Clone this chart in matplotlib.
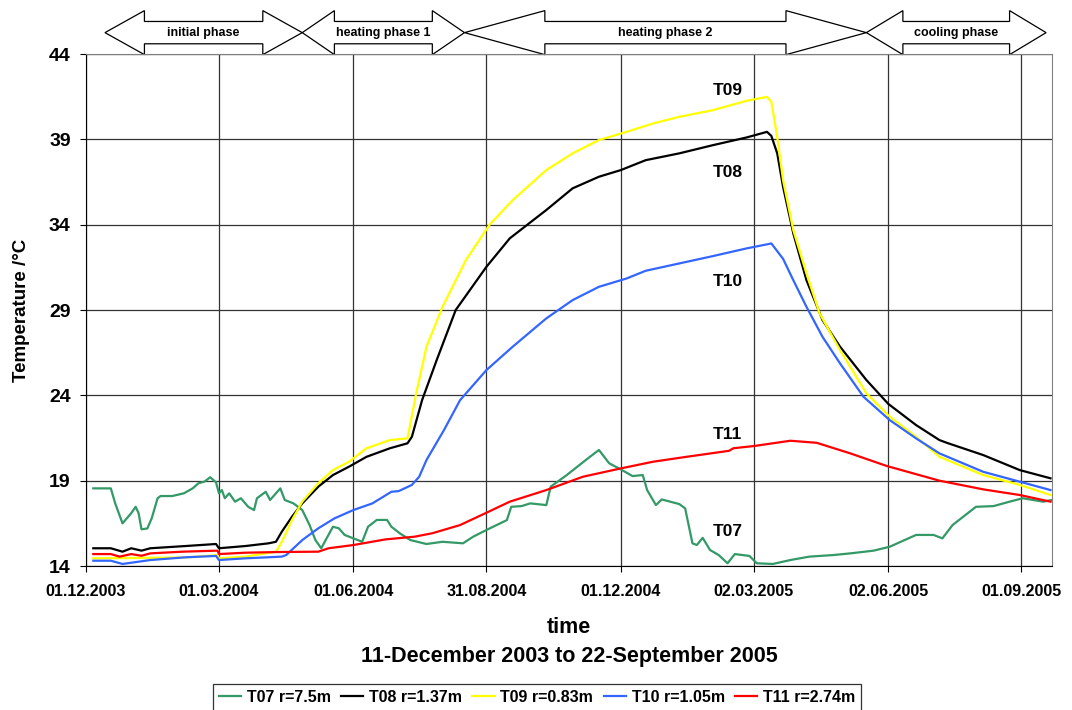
import numpy as np
import pandas as pd
import matplotlib
matplotlib.use("Agg")
import matplotlib.pyplot as plt
import matplotlib.dates as mdates
from matplotlib.patches import Polygon
from matplotlib.transforms import blended_transform_factory

plt.rcParams['font.family'] = 'Liberation Sans'
plt.rcParams['font.weight'] = 'bold'

# temperature records, 11-Dec-2003 .. 22-Sep-2005
t07_dates = ["2003-12-06", "2003-12-18", "2003-12-21", "2003-12-26", "2004-01-01", "2004-01-04",
             "2004-01-06", "2004-01-08", "2004-01-12", "2004-01-15", "2004-01-19", "2004-01-21",
             "2004-01-29", "2004-02-06", "2004-02-12", "2004-02-16", "2004-02-20", "2004-02-24",
             "2004-02-28", "2004-03-01", "2004-03-03", "2004-03-05", "2004-03-08", "2004-03-12",
             "2004-03-16", "2004-03-21", "2004-03-25", "2004-03-27", "2004-04-02", "2004-04-05",
             "2004-04-09", "2004-04-12", "2004-04-15", "2004-04-21", "2004-04-27", "2004-05-02",
             "2004-05-06", "2004-05-10", "2004-05-13", "2004-05-18", "2004-05-22", "2004-05-26",
             "2004-06-01", "2004-06-07", "2004-06-11", "2004-06-17", "2004-06-24", "2004-06-27",
             "2004-07-03", "2004-07-10", "2004-07-21", "2004-08-01", "2004-08-15", "2004-08-22",
             "2004-08-31", "2004-09-14", "2004-09-17", "2004-09-24", "2004-09-30", "2004-10-11",
             "2004-10-14", "2004-10-25", "2004-11-07", "2004-11-16", "2004-11-23", "2004-12-01",
             "2004-12-09", "2004-12-16", "2004-12-19", "2004-12-25", "2004-12-29", "2005-01-10",
             "2005-01-14", "2005-01-19", "2005-01-22", "2005-01-26", "2005-01-31", "2005-02-06",
             "2005-02-12", "2005-02-17", "2005-02-27", "2005-03-04", "2005-03-15", "2005-03-27",
             "2005-04-09", "2005-04-25", "2005-05-07", "2005-05-23", "2005-06-03", "2005-06-21",
             "2005-07-03", "2005-07-09", "2005-07-16", "2005-08-01", "2005-08-13", "2005-08-24",
             "2005-09-02", "2005-09-16", "2005-09-22"]
t07_vals = [18.55, 18.55, 17.67, 16.5, 17.1, 17.47,
            17.1, 16.15, 16.2, 16.8, 17.97, 18.1,
            18.1, 18.26, 18.55, 18.85, 18.94, 19.2,
            18.9, 18.26, 18.45, 17.97, 18.26, 17.77,
            17.97, 17.47, 17.28, 17.97, 18.35, 17.87,
            18.26, 18.55, 17.87, 17.67, 17.28, 16.4,
            15.52, 15.04, 15.52, 16.3, 16.21, 15.82,
            15.62, 15.42, 16.3, 16.7, 16.7, 16.3,
            15.9, 15.52, 15.29, 15.42, 15.33, 15.72,
            16.11, 16.69, 17.47, 17.51, 17.67, 17.57,
            18.65, 19.33, 20.21, 20.8, 20.02, 19.66,
            19.27, 19.33, 18.45, 17.57, 17.9, 17.63,
            17.38, 15.33, 15.23, 15.65, 14.94, 14.64,
            14.16, 14.7, 14.59, 14.16, 14.12, 14.35,
            14.55, 14.64, 14.74, 14.9, 15.13, 15.82,
            15.82, 15.62, 16.4, 17.47, 17.51, 17.77,
            17.97, 17.77, 17.87]

t08_dates = ["2003-12-06", "2003-12-18", "2003-12-26", "2004-01-01", "2004-01-08", "2004-01-14",
             "2004-02-07", "2004-02-28", "2004-03-01", "2004-03-19", "2004-04-04", "2004-04-09",
             "2004-04-13", "2004-04-20", "2004-04-27", "2004-05-08", "2004-05-18", "2004-05-29",
             "2004-06-10", "2004-06-26", "2004-07-08", "2004-07-11", "2004-07-18", "2004-07-28",
             "2004-08-10", "2004-08-31", "2004-09-16", "2004-10-11", "2004-10-29", "2004-11-16",
             "2004-12-01", "2004-12-18", "2005-01-10", "2005-02-02", "2005-02-25", "2005-03-11",
             "2005-03-14", "2005-03-18", "2005-03-22", "2005-03-29", "2005-04-07", "2005-04-18",
             "2005-04-30", "2005-05-18", "2005-06-02", "2005-06-21", "2005-07-07", "2005-07-12",
             "2005-08-06", "2005-08-31", "2005-09-21"]
t08_vals = [15.04, 15.04, 14.84, 15.04, 14.9, 15.04,
            15.17, 15.29, 15.04, 15.17, 15.33, 15.42,
            16.01, 16.89, 17.67, 18.65, 19.33, 19.82,
            20.4, 20.9, 21.19, 21.57, 23.72, 26.07,
            29.0, 31.53, 33.2, 34.86, 36.13, 36.81,
            37.2, 37.78, 38.18, 38.66, 39.11, 39.44,
            39.2, 38.18, 36.22, 33.49, 30.75, 28.41,
            26.85, 24.9, 23.5, 22.26, 21.38, 21.22,
            20.5, 19.62, 19.14]

t09_dates = ["2003-12-06", "2004-02-07", "2004-02-29", "2004-03-01", "2004-03-19", "2004-04-09",
             "2004-04-13", "2004-04-20", "2004-04-27", "2004-05-08", "2004-05-18", "2004-05-29",
             "2004-06-10", "2004-06-26", "2004-07-08", "2004-07-14", "2004-07-21", "2004-08-01",
             "2004-08-17", "2004-09-02", "2004-09-18", "2004-10-11", "2004-10-29", "2004-11-16",
             "2004-12-05", "2004-12-23", "2005-01-10", "2005-02-02", "2005-02-25", "2005-03-11",
             "2005-03-14", "2005-03-18", "2005-03-22", "2005-03-29", "2005-04-07", "2005-04-16",
             "2005-04-30", "2005-05-18", "2005-06-03", "2005-06-21", "2005-07-07", "2005-08-06",
             "2005-08-31", "2005-09-21"]
t09_vals = [14.45, 14.5, 14.64, 14.45, 14.55, 14.84,
            15.42, 16.7, 17.77, 18.85, 19.62, 20.11,
            20.9, 21.38, 21.48, 24.12, 26.85, 29.19,
            31.93, 33.98, 35.44, 37.2, 38.18, 38.96,
            39.44, 39.93, 40.32, 40.71, 41.26, 41.49,
            41.2, 39.15, 36.61, 33.68, 31.15, 28.8,
            26.65, 24.12, 22.75, 21.57, 20.4, 19.33,
            18.75, 18.16]

t10_dates = ["2003-12-06", "2003-12-18", "2003-12-26", "2004-01-14", "2004-02-07", "2004-02-28",
             "2004-03-01", "2004-03-19", "2004-04-13", "2004-04-16", "2004-04-27", "2004-05-08",
             "2004-05-19", "2004-06-01", "2004-06-14", "2004-06-27", "2004-07-02", "2004-07-11",
             "2004-07-16", "2004-07-21", "2004-08-02", "2004-08-13", "2004-08-31", "2004-09-18",
             "2004-10-11", "2004-10-29", "2004-11-16", "2004-12-05", "2004-12-18", "2005-01-10",
             "2005-02-02", "2005-02-25", "2005-03-14", "2005-03-22", "2005-03-29", "2005-04-07",
             "2005-04-18", "2005-04-30", "2005-05-16", "2005-06-03", "2005-06-21", "2005-07-07",
             "2005-08-06", "2005-08-31", "2005-09-21"]
t10_vals = [14.31, 14.31, 14.12, 14.35, 14.51, 14.59,
            14.35, 14.45, 14.55, 14.64, 15.52, 16.21,
            16.79, 17.28, 17.67, 18.35, 18.39, 18.75,
            19.23, 20.21, 21.97, 23.72, 25.48, 26.85,
            28.51, 29.58, 30.36, 30.85, 31.3, 31.73,
            32.16, 32.61, 32.9, 32.0, 30.75, 29.19,
            27.43, 25.87, 23.92, 22.55, 21.48, 20.6,
            19.52, 18.94, 18.45]

t11_dates = ["2003-12-06", "2003-12-18", "2003-12-24", "2004-01-01", "2004-01-08", "2004-01-14",
             "2004-02-05", "2004-02-29", "2004-03-01", "2004-03-19", "2004-04-11", "2004-05-08",
             "2004-05-15", "2004-06-01", "2004-06-23", "2004-07-13", "2004-07-25", "2004-08-13",
             "2004-08-31", "2004-09-16", "2004-10-11", "2004-11-05", "2004-12-01", "2004-12-23",
             "2005-01-15", "2005-02-13", "2005-02-16", "2005-03-02", "2005-03-27", "2005-04-14",
             "2005-05-07", "2005-06-01", "2005-07-07", "2005-08-06", "2005-08-31", "2005-09-21"]
t11_vals = [14.7, 14.7, 14.55, 14.7, 14.6, 14.74,
            14.84, 14.9, 14.7, 14.78, 14.82, 14.84,
            15.04, 15.23, 15.56, 15.72, 15.92, 16.4,
            17.12, 17.77, 18.45, 19.23, 19.72, 20.11,
            20.4, 20.75, 20.9, 21.03, 21.34, 21.22,
            20.6, 19.86, 19.0, 18.49, 18.16, 17.77]

series_names = ["T07 r=7.5m", "T08 r=1.37m", "T09 r=0.83m", "T10 r=1.05m", "T11 r=2.74m"]
series_colors = ["#339966", "#000000", "#FFFF00", "#3366FF", "#FF0000"]

# curve labels inside the plot
label_texts = ["T09", "T08", "T10", "T11", "T07"]
label_date = "2005-02-12"
label_vals = [41.89, 37.08, 30.7, 21.73, 16.05]

# experiment phases drawn as double arrows above the plot
phase_names = ["initial phase", "heating phase 1", "heating phase 2", "cooling phase"]
phase_bounds = ["2003-12-14", "2004-04-27", "2004-08-16", "2005-05-18", "2005-09-18"]
phase_heads = [27, 22, 55, 25]  # arrow head length in days

tick_dates = ["2003-12-01", "2004-03-01", "2004-06-01", "2004-08-31",
              "2004-12-01", "2005-03-02", "2005-06-02", "2005-09-01"]

fig = plt.figure(figsize=(10.72, 7.10), dpi=100)
ax = fig.add_axes([0.0802, 0.2028, 0.9011, 0.7211])

all_series = [(t07_dates, t07_vals), (t08_dates, t08_vals), (t09_dates, t09_vals),
              (t10_dates, t10_vals), (t11_dates, t11_vals)]
for (d, v), name, col in zip(all_series, series_names, series_colors):
    ax.plot(pd.to_datetime(d), v, color=col, lw=1.6, label=name, zorder=3)

for txt, val in zip(label_texts, label_vals):
    ax.text(pd.Timestamp(label_date), val, txt, ha="center", va="center",
            fontsize=12.5, fontweight="bold", zorder=4)

ax.set_xlim(pd.Timestamp("2003-12-01"), pd.Timestamp("2005-09-22"))
ax.set_ylim(14, 44)
ax.set_yticks(np.arange(14, 45, 5))
ax.set_xticks(pd.to_datetime(tick_dates))
ax.xaxis.set_major_formatter(mdates.DateFormatter("%d.%m.%Y"))
ax.tick_params(axis="x", labelsize=11.5, length=4, pad=9, direction="out")
ax.tick_params(axis="y", labelsize=14, length=4, pad=7, direction="out")
ax.grid(True, color="#333333", lw=0.9)
ax.set_axisbelow(True)
for sp in ax.spines.values():
    sp.set_color("#808080")
ax.spines["left"].set_color("black")
ax.spines["bottom"].set_color("black")

ax.set_ylabel("Temperature /°C", fontsize=13.5, fontweight="bold", labelpad=14)
ax.set_xlabel("time\n11-December 2003 to 22-September 2005", fontsize=15.5,
              fontweight="bold", labelpad=13, linespacing=1.5)

# phase arrows
trans = blended_transform_factory(ax.transData, ax.transAxes)
ym, bh, hh = 1.0418, 0.0218, 0.043
bnums = mdates.date2num(pd.to_datetime(phase_bounds))
for i, name in enumerate(phase_names):
    x0, x1, h = bnums[i], bnums[i + 1], phase_heads[i]
    verts = [(x0, ym), (x0 + h, ym + hh), (x0 + h, ym + bh), (x1 - h, ym + bh),
             (x1 - h, ym + hh), (x1, ym), (x1 - h, ym - hh), (x1 - h, ym - bh),
             (x0 + h, ym - bh), (x0 + h, ym - hh)]
    ax.add_patch(Polygon(verts, closed=True, facecolor="white", edgecolor="black",
                         lw=0.9, transform=trans, clip_on=False))
    ax.text((x0 + x1) / 2, ym, name, transform=trans, ha="center", va="center",
            fontsize=9, fontweight="bold")

leg = fig.legend(loc="lower center", bbox_to_anchor=(0.501, -0.012), ncol=5,
                 fontsize=11.5, frameon=True, fancybox=False, edgecolor="black",
                 handlelength=1.4, handletextpad=0.35, columnspacing=0.65,
                 borderpad=0.35)
leg.get_frame().set_linewidth(0.9)

fig.savefig("out.png", dpi=100)
